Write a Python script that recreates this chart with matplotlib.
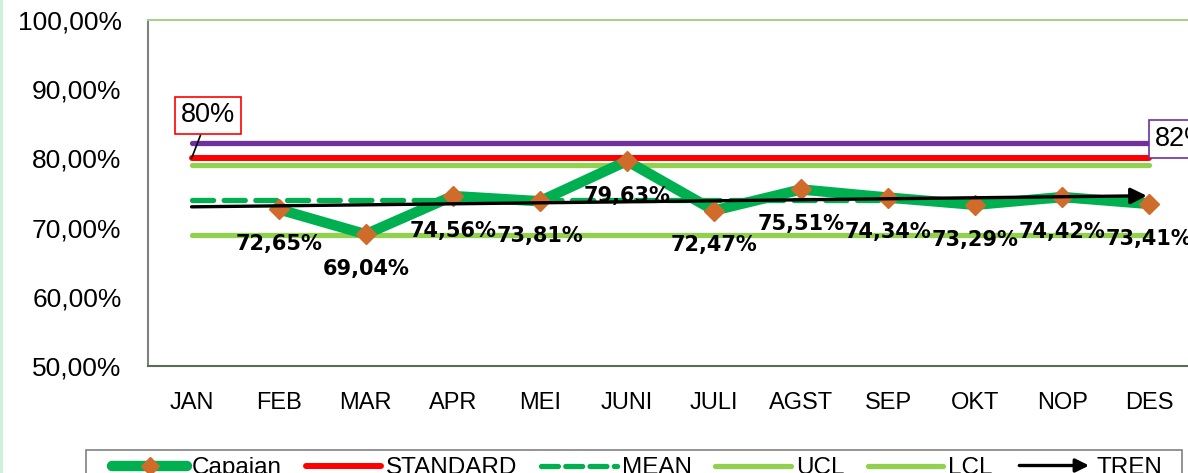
import matplotlib
matplotlib.use("Agg")
import matplotlib.pyplot as plt
from matplotlib.lines import Line2D
from matplotlib.patches import FancyArrowPatch, Rectangle
from matplotlib.legend_handler import HandlerBase
import numpy as np

# ---- data ----
months = ["JAN", "FEB", "MAR", "APR", "MEI", "JUNI", "JULI", "AGST", "SEP", "OKT", "NOP", "DES"]
capaian = [None, 72.65, 69.04, 74.56, 73.81, 79.63, 72.47, 75.51, 74.34, 73.29, 74.42, 73.41]
standard = 80.0
target = 82.2
mean_val = 73.92
ucl = 79.0
lcl = 68.95
trend_start = 73.0
trend_end = 74.6
yticks = [50, 60, 70, 80, 90, 100]
legend_labels = ["Capaian", "STANDARD", "MEAN", "UCL", "LCL", "TREN"]

GREEN = "#00B050"
LGREEN = "#92D050"
RED = "#FF0000"
PURPLE = "#7030A0"
ORANGE = "#CF6B2B"

W, H = 1188, 473
fig = plt.figure(figsize=(W / 100, H / 100), dpi=100)
fig.patch.set_facecolor("white")
ax = fig.add_axes([148 / W, 107 / H, (1193 - 148) / W, 346 / H])

x = np.arange(len(months))
n = len(months)

# horizontal reference lines
ax.plot(x, [target] * n, color=PURPLE, lw=3.8, solid_capstyle="round", zorder=2)
ax.plot(x, [standard] * n, color=RED, lw=4.3, solid_capstyle="round", zorder=3)
ax.plot(x, [ucl] * n, color=LGREEN, lw=3.8, solid_capstyle="round", zorder=2)
ax.plot(x, [lcl] * n, color=LGREEN, lw=3.8, solid_capstyle="round", zorder=2)
ax.plot(x, [mean_val] * n, color=GREEN, lw=3.8, dashes=(4, 2), dash_capstyle="round", zorder=2)

# capaian
xc = [xi for xi, v in zip(x, capaian) if v is not None]
yc = [v for v in capaian if v is not None]
ax.plot(xc, yc, color=GREEN, lw=7.5, solid_joinstyle="miter", zorder=4)
ax.plot(xc, yc, ls="none", marker="D", ms=10, mfc=ORANGE, mec=ORANGE, zorder=5)

# trend arrow
ax.annotate("", xy=(x[-1] - 0.03, trend_end), xytext=(x[0], trend_start),
            arrowprops=dict(arrowstyle="-|>", lw=2.4, color="black",
                            mutation_scale=24, shrinkA=0, shrinkB=0),
            zorder=6)

# data labels
for xi, v in zip(xc, yc):
    ax.annotate(f"{v:.2f}%".replace(".", ","), xy=(xi, v), xytext=(0, -25),
                textcoords="offset points", ha="center", va="center",
                fontsize=15, fontweight="bold", family="DejaVu Sans",
                color="black", zorder=7)

# callout labels
ax.annotate("80%", xy=(x[0], standard), xytext=(x[0] + 0.19, 86.2),
            ha="center", va="center", fontsize=19.5, family="Liberation Sans",
            bbox=dict(boxstyle="square,pad=0.22", fc="white", ec=RED, lw=1.2),
            arrowprops=dict(arrowstyle="-", color="black", lw=1.2, shrinkA=0, shrinkB=0),
            zorder=8)
ax.annotate("82%", xy=(x[-1], target), xytext=(1155, H - 139), textcoords="figure pixels",
            ha="left", va="center", fontsize=19.5, family="Liberation Sans",
            bbox=dict(boxstyle="square,pad=0.22", fc="white", ec=PURPLE, lw=1.2),
            zorder=8, annotation_clip=False)

# axes styling
ax.set_xlim(-0.5, 11.5)
ax.set_ylim(50, 100)
ax.set_xticks(x)
ax.set_xticklabels(months, fontsize=17, family="Liberation Sans")
ax.set_yticks(yticks)
ax.set_yticklabels([f"{t:.2f}%".replace(".", ",") for t in yticks], fontsize=19, family="Liberation Sans")
ax.tick_params(axis="both", length=0)
ax.tick_params(axis="y", pad=19)
ax.tick_params(axis="x", pad=19)
ax.spines["top"].set_color("#A9D08E")
ax.spines["left"].set_color("#808080")
ax.spines["bottom"].set_color("#5B6B5B")
ax.spines["right"].set_visible(False)
for s in ax.spines.values():
    s.set_linewidth(1.5)

# legend
class ArrowHandler(HandlerBase):
    def create_artists(self, legend, orig_handle, xdescent, ydescent, width, height, fontsize, trans):
        y = height / 2 - ydescent
        a = FancyArrowPatch((-xdescent, y), (-xdescent + width, y), arrowstyle="-|>",
                            mutation_scale=20, lw=2.4, color="black", transform=trans)
        return [a]

h_cap = Line2D([], [], color=GREEN, lw=7.5, marker="D", ms=9, mfc=ORANGE, mec=ORANGE,
               solid_capstyle="round")
h_std = Line2D([], [], color=RED, lw=4.3, solid_capstyle="round")
h_mean = Line2D([], [], color=GREEN, lw=3.8, dashes=(3.2, 1.4), dash_capstyle="round")
h_ucl = Line2D([], [], color=LGREEN, lw=3.8, solid_capstyle="round")
h_lcl = Line2D([], [], color=LGREEN, lw=3.8, solid_capstyle="round")
h_tren = Line2D([], [], color="black")
leg = fig.legend([h_cap, h_std, h_mean, h_ucl, h_lcl, h_tren], legend_labels,
                 handler_map={h_tren: ArrowHandler()},
                 loc="center left", bbox_to_anchor=(112 / W, 1 - 468 / H), ncol=6,
                 numpoints=1, frameon=False,
                 prop={"family": "Liberation Sans", "size": 17.5},
                 handlelength=3.1, handletextpad=0.2, columnspacing=0.98,
                 borderpad=0, borderaxespad=0)
fig.add_artist(Rectangle((86 / W, -0.05), (1182 - 86) / W, (473 - 450) / H + 0.05,
                         transform=fig.transFigure, fill=False, ec="#808080", lw=1.2))

fig.add_artist(Line2D([0.001, 0.001], [0, 1], color="#CDEFDC", lw=2, transform=fig.transFigure))

fig.savefig("out.png", dpi=100)
